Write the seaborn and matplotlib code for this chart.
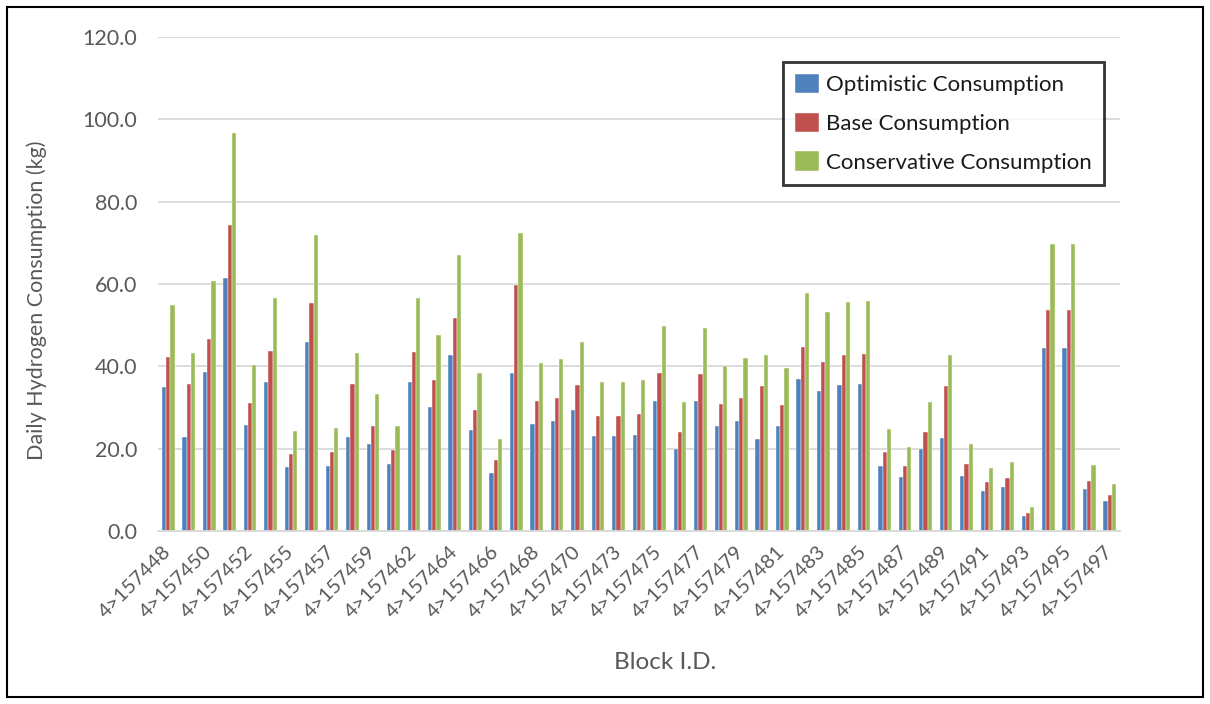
import matplotlib
matplotlib.use("Agg")
import matplotlib.pyplot as plt
import pandas as pd
import seaborn as sns
from matplotlib.patches import Rectangle

# Block identifiers (every other one is labelled on the axis)
block_ids = [
    157448, 157449, 157450, 157451, 157452, 157453, 157455, 157456,
    157457, 157458, 157459, 157460, 157462, 157463, 157464, 157465,
    157466, 157467, 157468, 157469, 157470, 157471, 157473, 157474,
    157475, 157476, 157477, 157478, 157479, 157480, 157481, 157482,
    157483, 157484, 157485, 157486, 157487, 157488, 157489, 157490,
    157491, 157492, 157493, 157494, 157495, 157496, 157497,
]

optimistic = [
    35.0, 22.8, 38.6, 61.5, 25.7, 36.2, 15.5, 45.9,
    15.9, 22.8, 21.2, 16.2, 36.1, 30.2, 42.8, 24.5,
    14.2, 38.3, 26.0, 26.7, 29.3, 23.0, 23.1, 23.3,
    31.7, 20.0, 31.5, 25.6, 26.7, 22.4, 25.4, 36.9,
    34.0, 35.4, 35.6, 15.8, 13.0, 20.0, 22.5, 13.4,
    9.8, 10.7, 3.6, 44.5, 44.5, 10.2, 7.3,
]

base = [
    42.3, 35.7, 46.7, 74.4, 31.0, 43.7, 18.8, 55.4,
    19.3, 35.7, 25.5, 19.6, 43.6, 36.6, 51.7, 29.5,
    17.2, 59.7, 31.5, 32.2, 35.4, 27.9, 27.9, 28.3,
    38.3, 24.1, 38.1, 30.9, 32.3, 35.2, 30.6, 44.6,
    41.1, 42.8, 43.0, 19.1, 15.7, 24.1, 35.2, 16.2,
    11.9, 12.8, 4.4, 53.7, 53.7, 12.2, 8.8,
]

conservative = [
    55.0, 43.3, 60.7, 96.6, 40.3, 56.7, 24.4, 72.0,
    25.0, 43.3, 33.2, 25.4, 56.5, 47.5, 67.1, 38.3,
    22.3, 72.4, 40.8, 41.8, 45.9, 36.1, 36.2, 36.7,
    49.7, 31.4, 49.3, 40.2, 42.0, 42.7, 39.7, 57.8,
    53.3, 55.6, 55.9, 24.8, 20.4, 31.4, 42.7, 21.1,
    15.4, 16.8, 5.8, 69.6, 69.6, 16.0, 11.3,
]

series_names = ["Optimistic Consumption", "Base Consumption", "Conservative Consumption"]
series_colors = ["#4F81BD", "#C0504D", "#9BBB59"]
y_ticks = [0, 20, 40, 60, 80, 100, 120]

block_labels = [f"4>{b}" for b in block_ids]
wide = pd.DataFrame({
    "block": block_labels,
    series_names[0]: optimistic,
    series_names[1]: base,
    series_names[2]: conservative,
})
df = wide.melt(id_vars="block", var_name="series", value_name="value")

sns.set_theme(style="white")
plt.rcParams["font.family"] = ["Lato", "DejaVu Sans"]

text_gray = "#595959"
grid_gray = "#D9D9D9"

fig = plt.figure(figsize=(12.1, 7.04), dpi=100)
ax = fig.add_axes([158 / 1210, 1 - 531 / 704, (1120 - 158) / 1210, (531 - 37) / 704])

sns.barplot(
    data=df, x="block", y="value", hue="series",
    order=block_labels, hue_order=series_names, palette=series_colors,
    saturation=1, width=0.62, gap=0, dodge=True,
    edgecolor="white", linewidth=0.3, ax=ax,
)

ax.set_ylim(0, 120)
ax.set_xlim(-0.5, len(block_labels) - 0.5)
ax.set_yticks(y_ticks)
ax.set_yticklabels([f"{v:.1f}" for v in y_ticks], color=text_gray, fontsize=15.5)
ax.set_xticks(range(0, len(block_labels), 2))
ax.set_xticklabels(block_labels[::2], rotation=45, ha="right", va="center",
                   rotation_mode="anchor", color=text_gray, fontsize=14.5)
ax.tick_params(axis="y", length=0, pad=15)
ax.tick_params(axis="x", length=0, pad=13)

ax.yaxis.grid(True, color=grid_gray, linewidth=1.3)
ax.set_axisbelow(True)
for side in ["top", "right", "left"]:
    ax.spines[side].set_visible(False)
ax.spines["bottom"].set_color(grid_gray)
ax.spines["bottom"].set_linewidth(1.3)

ax.set_xlabel("Block I.D.", color=text_gray, fontsize=17.5)
ax.xaxis.set_label_coords((665 - 158) / 962, -(652 - 531) / 494)
ax.set_ylabel("Daily Hydrogen Consumption (kg)", color=text_gray, fontsize=15.5)
ax.yaxis.set_label_coords(-(158 - 47) / 962, (531 - 300) / 494)

leg = ax.legend(
    loc="upper left", bbox_to_anchor=(783 / 1210, 1 - 62 / 704),
    bbox_transform=fig.transFigure, borderaxespad=0,
    frameon=True, fancybox=False, edgecolor="black",
    fontsize=16, handlelength=1.05, handleheight=0.95, handletextpad=0.35,
    labelspacing=0.78, borderpad=0.55, title=None,
)
leg.get_frame().set_linewidth(2)
for t in leg.get_texts():
    t.set_color("#1a1a1a")

fig.patches.append(Rectangle((7 / 1210, 7 / 704), 1 - 14 / 1210, 1 - 14 / 704,
                             transform=fig.transFigure, fill=False,
                             edgecolor="black", linewidth=1.5))

fig.savefig("out.png", dpi=100)
